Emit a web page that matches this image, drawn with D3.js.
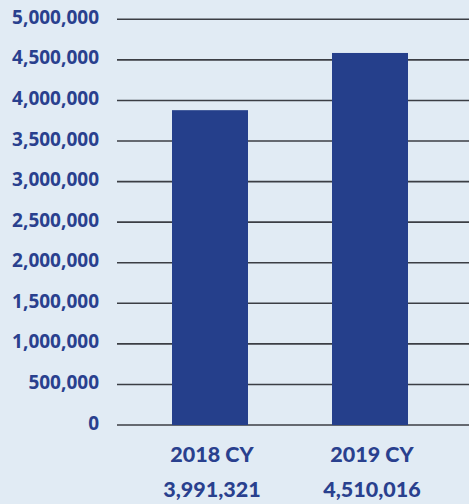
<!DOCTYPE html>
<html>
<head>
<meta charset="utf-8">
<script src="https://cdn.jsdelivr.net/npm/d3@7"></script>
<style>
  html, body { margin: 0; padding: 0; background: #e1ebf4; }
  svg { display: block; }
</style>
</head>
<body>
<svg id="chart"></svg>
<script>
// data
var categories = ["2018 CY", "2019 CY"];
var barValues = [3880000, 4585000];          // bar heights as drawn
var valueLabels = ["3,991,321", "4,510,016"];  // printed under each bar
var yTicks = [0, 500000, 1000000, 1500000, 2000000, 2500000, 3000000, 3500000, 4000000, 4500000, 5000000];

var width = 469;
var height = 504;

var textColor = "#29408e";
var barColor = "#253f8b";

var svg = d3.select("#chart")
    .attr("width", width)
    .attr("height", height);

var y = d3.scaleLinear()
    .domain([0, 5000000])
    .range([425, 19.3]);

var x = d3.scaleBand()
    .domain(categories)
    .range([130, 450])
    .paddingInner(0.525)
    .paddingOuter(0.2625);

// gridlines
svg.append("g")
    .selectAll("line")
    .data(yTicks)
    .enter()
    .append("line")
        .attr("x1", 117)
        .attr("x2", width)
        .attr("y1", d => y(d))
        .attr("y2", d => y(d))
        .attr("stroke", "#3b3e44")
        .attr("stroke-width", 1.6);

// y tick labels
svg.append("g")
    .selectAll("text")
    .data(yTicks)
    .enter()
    .append("text")
        .attr("x", 99)
        .attr("y", d => y(d) + 4.5)
        .attr("text-anchor", "end")
        .attr("fill", textColor)
        .style("font-family", "'Open Sans', sans-serif")
        .style("font-weight", "700")
        .style("font-size", "19px")
        .text(d => d3.format(",")(d));

// bars
svg.append("g")
    .selectAll("rect")
    .data(barValues)
    .enter()
    .append("rect")
        .attr("x", (d, i) => x(categories[i]))
        .attr("width", x.bandwidth())
        .attr("y", d => y(d))
        .attr("height", d => y(0) - y(d))
        .attr("fill", barColor);

// category labels
var labels = svg.append("g")
    .selectAll("g")
    .data(categories)
    .enter()
    .append("g")
    .attr("transform", d => "translate(" + (x(d) + x.bandwidth() / 2 + 2) + ",0)");

labels.append("text")
    .attr("y", 462)
    .text(d => d);

labels.append("text")
    .attr("y", 497)
    .text((d, i) => valueLabels[i]);

labels.selectAll("text")
    .attr("text-anchor", "middle")
    .attr("fill", textColor)
    .style("font-family", "Lato, sans-serif")
    .style("font-weight", "900")
    .style("font-size", "21.5px");
</script>
</body>
</html>
